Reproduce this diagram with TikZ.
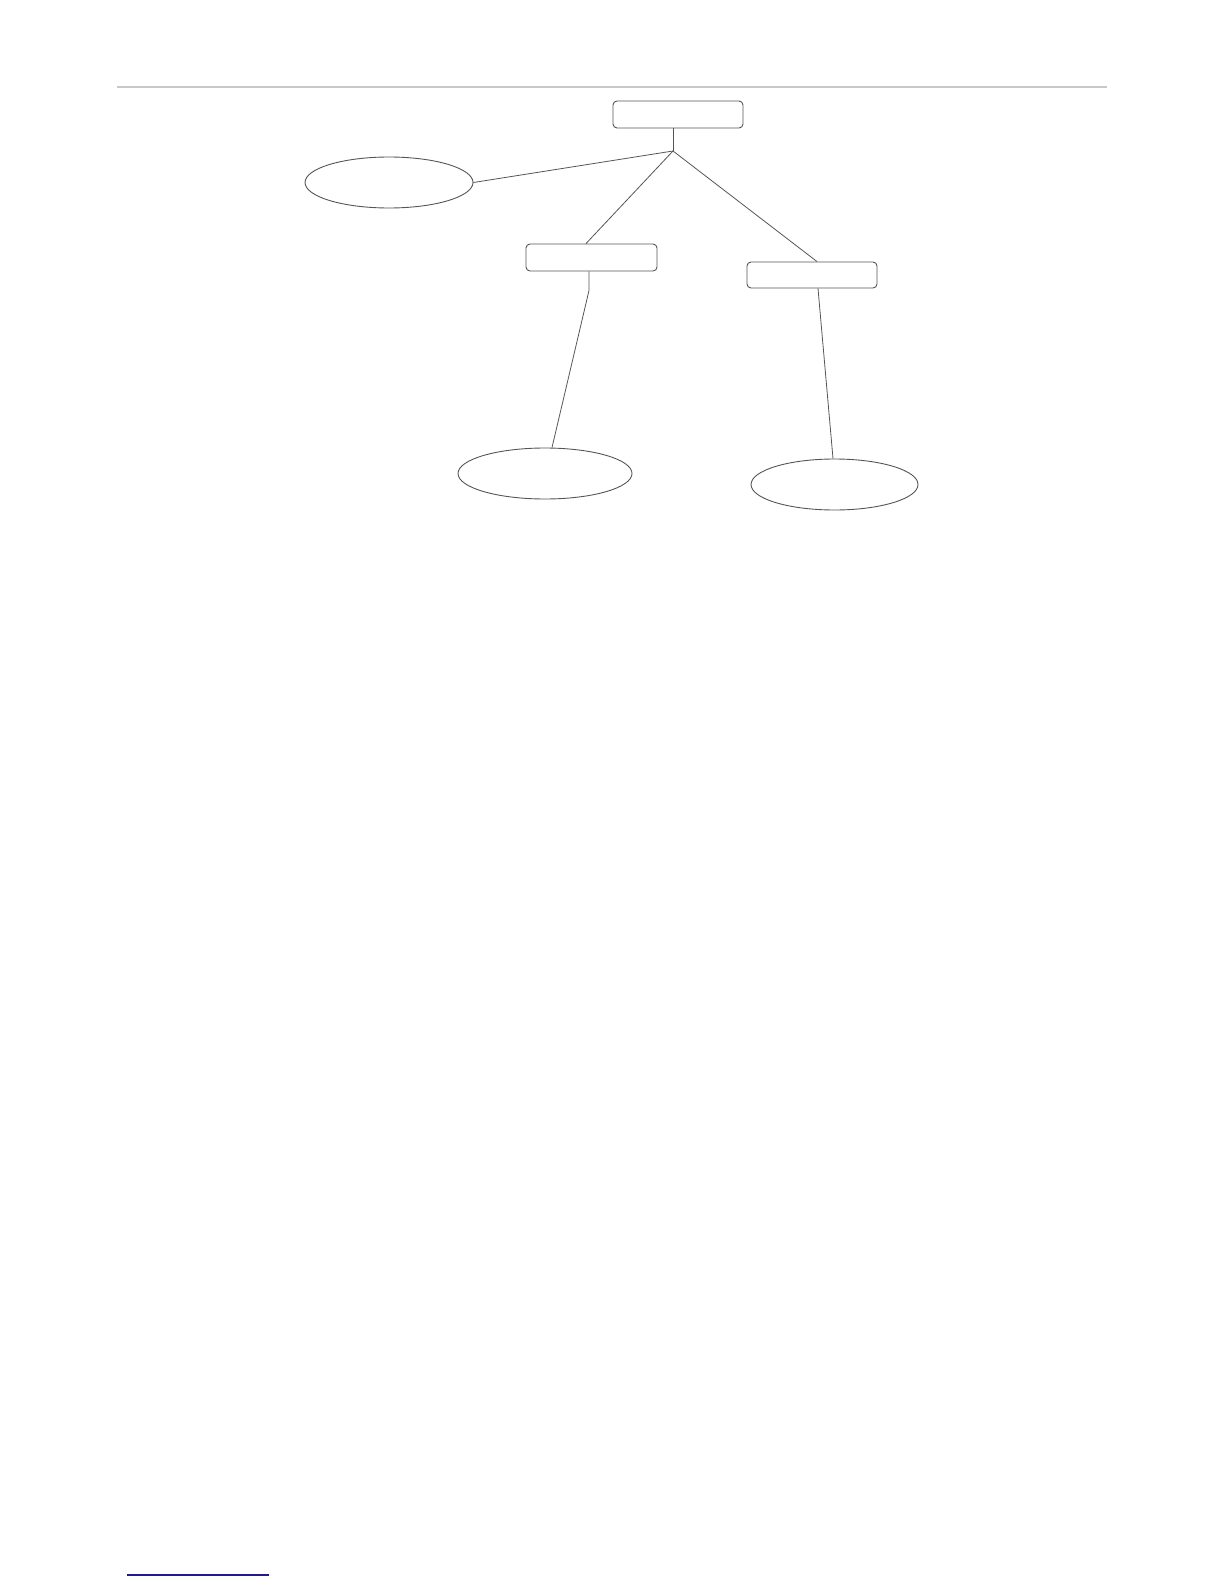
\documentclass[tikz,border=0pt]{standalone}
\usetikzlibrary{shapes.geometric}
\definecolor{edgegray}{HTML}{555555}
\definecolor{rulegray}{HTML}{C8C8C8}
\definecolor{navyline}{HTML}{1C1C8A}
\tikzset{
  rbox/.style={draw=edgegray, line width=0.9pt, rounded corners=4pt, minimum width=130pt, minimum height=27pt, inner sep=0pt},
  oval/.style={draw=edgegray, line width=0.9pt, ellipse, inner sep=0pt},
  link/.style={draw=edgegray, line width=0.8pt},
}
\begin{document}
\begin{tikzpicture}[x=1pt,y=-1pt]
\useasboundingbox (0,0) rectangle (1224,1584);
% header rule
\coordinate (ruleL) at (117,87);
\coordinate (ruleR) at (1107,87);
\draw[rulegray, line width=1.3pt] (ruleL) -- (ruleR);
% footer rule
\coordinate (footL) at (127,1575);
\coordinate (footR) at (269,1575);
\draw[navyline, line width=1.3pt] (footL) -- (footR);
% nodes
\node[rbox] (top) at (678,114.5) {};
\node[rbox, minimum width=131pt] (mid) at (591.5,257.5) {};
\node[rbox, minimum height=26pt] (right) at (812,275) {};
\node[oval, minimum width=168pt, minimum height=51pt] (el1) at (389,182.5) {};
\node[oval, minimum width=174pt, minimum height=51pt] (el2) at (545,473.5) {};
\node[oval, minimum width=167pt, minimum height=51pt] (el3) at (834.5,484.5) {};
\coordinate (j) at (673,151);
% connectors
\draw[link] (top.south -| j) -- (j);
\draw[link] (j) -- (el1.east);
\draw[link] (j) -- ([xshift=-5.5pt]mid.north);
\draw[link] (j) -- ([xshift=5pt]right.north);
\draw[link] ([xshift=-2.5pt]mid.south) -- ++(0,19) -- ([xshift=7pt]el2.north);
\draw[link] ([xshift=6pt]right.south) -- ([xshift=-1.5pt]el3.north);
\end{tikzpicture}
\end{document}
